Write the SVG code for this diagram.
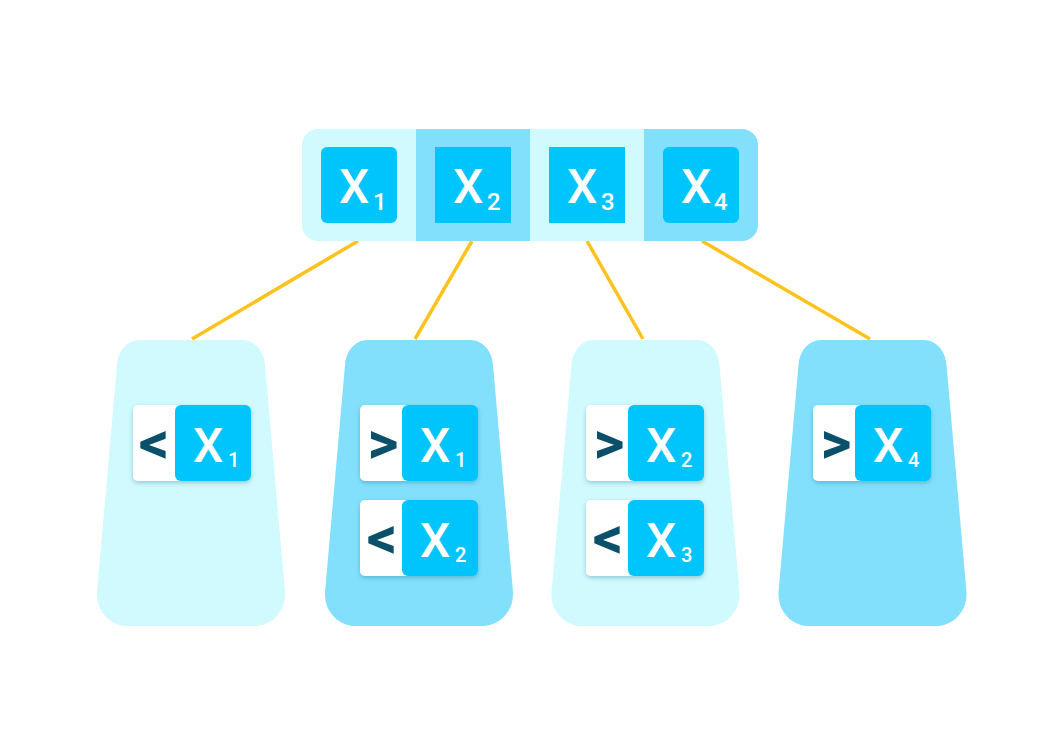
<svg xmlns="http://www.w3.org/2000/svg" width="1064" height="755" viewBox="0 0 1064 755">
<defs>
<style>
.light{fill:#D0FAFE}
.mid{fill:#82E0FC}
.box{fill:#00C4FC}
.xt{font-family:Roboto,"Liberation Sans",sans-serif;font-weight:500;fill:#FFFFFF;font-size:48px}
.sub{font-family:Roboto,"Liberation Sans",sans-serif;font-weight:500;fill:#FFFFFF;font-size:24px}
.csub{font-family:Roboto,"Liberation Sans",sans-serif;font-weight:500;fill:#FFFFFF;font-size:20px}
.op{font-family:Roboto,"Liberation Sans",sans-serif;font-weight:700;fill:#0A5068;font-size:60px;text-anchor:middle}
.conn{stroke:#FDC21B;stroke-width:3.5;fill:none}
</style>
<clipPath id="barclip"><rect x="302" y="129" width="456" height="112" rx="16"/></clipPath>
<path id="leaf" d="M -51,340 H 51 C 64,340 73,351 74,365 L 94,592 C 95,611 81,626 63,626 H -63 C -81,626 -95,611 -94,592 L -74,365 C -73,351 -64,340 -51,340 Z"/>
<filter id="sh" x="-20%" y="-20%" width="140%" height="150%"><feDropShadow dx="0" dy="2" stdDeviation="2" flood-color="#0A6080" flood-opacity="0.3"/></filter>
</defs>
<rect width="1064" height="755" fill="#FFFFFF"/>
<g id="connectors">
<line class="conn" x1="358" y1="241" x2="192" y2="339"/>
<line class="conn" x1="472" y1="241" x2="415" y2="339"/>
<line class="conn" x1="587" y1="241" x2="643" y2="339"/>
<line class="conn" x1="702" y1="241" x2="870" y2="339"/>
</g>
<g id="root">
<g clip-path="url(#barclip)">
<rect class="light" x="302" y="129" width="114" height="112"/>
<rect class="mid" x="416" y="129" width="114" height="112"/>
<rect class="light" x="530" y="129" width="114" height="112"/>
<rect class="mid" x="644" y="129" width="114" height="112"/>
</g>
<rect class="box" x="321" y="147" width="76" height="76" rx="6"/>
<text class="xt" x="339" y="203">X</text><text class="sub" x="373" y="210">1</text>
<rect class="box" x="435" y="147" width="76" height="76"/>
<text class="xt" x="453" y="203">X</text><text class="sub" x="487" y="210">2</text>
<rect class="box" x="549" y="147" width="76" height="76"/>
<text class="xt" x="567" y="203">X</text><text class="sub" x="601" y="210">3</text>
<rect class="box" x="663" y="147" width="76" height="76" rx="6"/>
<text class="xt" x="681" y="203">X</text><text class="sub" x="714" y="210">4</text>
</g>
<g id="leaf1" transform="translate(191,0)">
<use href="#leaf" class="light"/>
<g filter="url(#sh)"><rect x="-58" y="405" width="110" height="76" rx="5" fill="#FFFFFF"/><rect class="box" x="-16" y="405" width="76" height="76" rx="6"/></g>
<text class="op" x="-37" y="463">&lt;</text>
<text class="xt" x="2" y="462">X</text><text class="csub" x="37" y="467">1</text>
</g>
<g id="leaf2" transform="translate(419,0)">
<use href="#leaf" class="mid"/>
<g filter="url(#sh)"><rect x="-59" y="405" width="110" height="76" rx="5" fill="#FFFFFF"/><rect class="box" x="-17" y="405" width="76" height="76" rx="6"/></g>
<text class="op" x="-36" y="463">&gt;</text>
<text class="xt" x="1" y="462">X</text><text class="csub" x="36" y="467">1</text>
<g filter="url(#sh)"><rect x="-59" y="500" width="110" height="76" rx="5" fill="#FFFFFF"/><rect class="box" x="-17" y="500" width="76" height="76" rx="6"/></g>
<text class="op" x="-37" y="558">&lt;</text>
<text class="xt" x="1" y="557">X</text><text class="csub" x="36" y="562">2</text>
</g>
<g id="leaf3" transform="translate(645.5,0)">
<use href="#leaf" class="light"/>
<g filter="url(#sh)"><rect x="-59.5" y="405" width="110" height="76" rx="5" fill="#FFFFFF"/><rect class="box" x="-17.5" y="405" width="76" height="76" rx="6"/></g>
<text class="op" x="-36.5" y="463">&gt;</text>
<text class="xt" x="0.5" y="462">X</text><text class="csub" x="35.5" y="467">2</text>
<g filter="url(#sh)"><rect x="-59.5" y="500" width="110" height="76" rx="5" fill="#FFFFFF"/><rect class="box" x="-17.5" y="500" width="76" height="76" rx="6"/></g>
<text class="op" x="-37.5" y="558">&lt;</text>
<text class="xt" x="0.5" y="557">X</text><text class="csub" x="35.5" y="562">3</text>
</g>
<g id="leaf4" transform="translate(872.5,0)">
<use href="#leaf" class="mid"/>
<g filter="url(#sh)"><rect x="-59.5" y="405" width="110" height="76" rx="5" fill="#FFFFFF"/><rect class="box" x="-17.5" y="405" width="76" height="76" rx="6"/></g>
<text class="op" x="-36.5" y="463">&gt;</text>
<text class="xt" x="0.5" y="462">X</text><text class="csub" x="35.5" y="467">4</text>
</g>
</svg>
